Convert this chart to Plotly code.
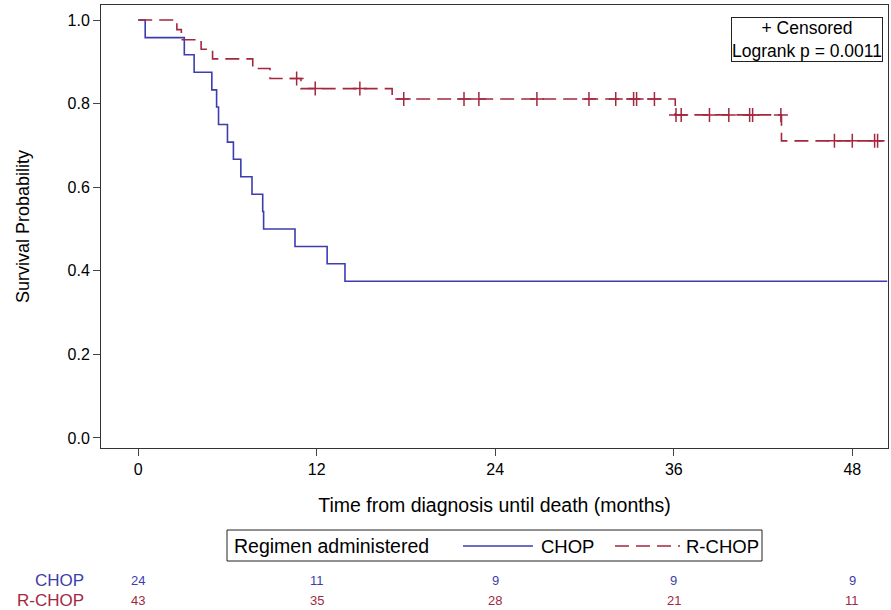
import plotly.graph_objects as go
import numpy as np

# ---- data ----
chop_t = [0, 0.47, 3.1, 3.76, 4.95, 5.27, 5.4, 6.0, 6.4, 6.9, 7.65, 8.37, 8.43, 10.54, 12.7, 13.9, 50.35]
chop_s = [1.0, 0.958, 0.917, 0.875, 0.833, 0.792, 0.750, 0.708, 0.667, 0.625, 0.583, 0.542, 0.500, 0.458, 0.417, 0.375, 0.375]

rchop_t = [0, 2.6, 2.9, 4.23, 5.0, 7.7, 8.86, 10.94, 17.07, 36.1, 43.24, 50.1]
rchop_s = [1.0, 0.977, 0.953, 0.930, 0.907, 0.884, 0.860, 0.836, 0.811, 0.773, 0.711, 0.711]

rchop_cens = [10.65, 11.9, 14.9, 17.85, 21.9, 22.9, 26.8, 30.3, 32.1, 33.3, 33.5, 34.7,
              36.15, 36.5, 38.4, 39.7, 41.1, 41.3, 43.2, 46.8, 48.0, 49.5, 49.7]

risk_times = [0, 12, 24, 36, 48]
risk_chop = [24, 11, 9, 9, 9]
risk_rchop = [43, 35, 28, 21, 11]

x_ticks = [0, 12, 24, 36, 48]
y_ticks = [0.0, 0.2, 0.4, 0.6, 0.8, 1.0]

BLUE = '#3d3dae'
RED = '#a3283f'
FONT = 'Liberation Sans, Arial, sans-serif'
DASH = '14px,7px'

W, H = 891, 610
ML, MR, MT, MB = 101, 3, 5, 162
PW, PH = W - ML - MR, H - MT - MB


def px_x(px):
    return (px - ML) / PW


def px_y(py):
    return (H - MB - py) / PH


def step_value(times, surv, t):
    idx = np.searchsorted(np.array(times), t, side='right') - 1
    return surv[max(idx, 0)]


cens_y = [step_value(rchop_t, rchop_s, t) for t in rchop_cens]

fig = go.Figure()
fig.add_trace(go.Scatter(x=chop_t, y=chop_s, mode='lines', line_shape='hv',
                         line=dict(color=BLUE, width=1.6), name='CHOP', showlegend=False))
fig.add_trace(go.Scatter(x=rchop_t, y=rchop_s, mode='lines', line_shape='hv',
                         line=dict(color=RED, width=1.6, dash=DASH), name='R-CHOP',
                         showlegend=False))
fig.add_trace(go.Scatter(x=rchop_cens, y=cens_y, mode='markers', showlegend=False,
                         marker=dict(symbol='cross-thin', size=10,
                                     line=dict(color=RED, width=1.5), color=RED),
                         name='Censored'))

ann = []
# at-risk table
for t, n in zip(risk_times, risk_chop):
    ann.append(dict(x=t, y=px_y(580), xref='x', yref='paper', text=str(n), showarrow=False,
                    yanchor='middle', font=dict(color=BLUE, size=13, family=FONT)))
for t, n in zip(risk_times, risk_rchop):
    ann.append(dict(x=t, y=px_y(600), xref='x', yref='paper', text=str(n), showarrow=False,
                    yanchor='middle', font=dict(color=RED, size=13, family=FONT)))
ann.append(dict(x=px_x(86), y=px_y(580), xref='paper', yref='paper', text='CHOP', showarrow=False,
                xanchor='right', yanchor='middle', font=dict(color=BLUE, size=17, family=FONT)))
ann.append(dict(x=px_x(86), y=px_y(600), xref='paper', yref='paper', text='R-CHOP', showarrow=False,
                xanchor='right', yanchor='middle', font=dict(color=RED, size=17, family=FONT)))
# censored / logrank box
ann.append(dict(x=px_x(883), y=px_y(17), xref='paper', yref='paper',
                text='+ Censored<br>Logrank p = 0.0011', showarrow=False,
                xanchor='right', yanchor='top', align='center',
                bordercolor='#222', borderwidth=1, borderpad=0, bgcolor='white',
                font=dict(color='black', size=17.5, family=FONT)))
# legend (drawn as box + samples)
LEG_Y = px_y(546)
ann.append(dict(x=px_x(232), y=LEG_Y, xref='paper', yref='paper', text='Regimen administered',
                showarrow=False, xanchor='left', yanchor='middle',
                font=dict(color='black', size=19.5, family=FONT)))
ann.append(dict(x=px_x(539), y=LEG_Y, xref='paper', yref='paper', text='CHOP',
                showarrow=False, xanchor='left', yanchor='middle',
                font=dict(color='black', size=18.5, family=FONT)))
ann.append(dict(x=px_x(684), y=LEG_Y, xref='paper', yref='paper', text='R-CHOP',
                showarrow=False, xanchor='left', yanchor='middle',
                font=dict(color='black', size=18.5, family=FONT)))

shapes = [
    dict(type='rect', xref='paper', yref='paper', x0=px_x(227), x1=px_x(762),
         y0=px_y(561), y1=px_y(530), line=dict(color='#222', width=1)),
    dict(type='line', xref='paper', yref='paper', x0=px_x(463), x1=px_x(533),
         y0=LEG_Y, y1=LEG_Y, line=dict(color=BLUE, width=1.5)),
    dict(type='line', xref='paper', yref='paper', x0=px_x(615), x1=px_x(680),
         y0=LEG_Y, y1=LEG_Y, line=dict(color=RED, width=1.5, dash=DASH)),
]

fig.update_layout(
    width=W, height=H,
    margin=dict(l=ML, r=MR, t=MT, b=MB),
    plot_bgcolor='white', paper_bgcolor='white',
    font=dict(family=FONT, color='black'),
    annotations=ann, shapes=shapes, showlegend=False,
)
fig.update_xaxes(range=[-2.5, 50.4], tickvals=x_ticks, ticks='outside', ticklen=7,
                 showline=True, mirror=True, linecolor='#333', linewidth=1,
                 showgrid=False, zeroline=False, tickfont=dict(size=16),
                 title=dict(text='Time from diagnosis until death (months)',
                            font=dict(size=19.5), standoff=21))
fig.update_yaxes(range=[-0.024, 1.036], tickvals=y_ticks, tickformat='.1f', ticks='outside',
                 ticklen=7, showline=True, mirror=True, linecolor='#333', linewidth=1,
                 showgrid=False, zeroline=False, tickfont=dict(size=16),
                 title=dict(text='Survival Probability', font=dict(size=18), standoff=33))

fig.write_html('out.html', config={'displayModeBar': False},
               post_script="document.body.style.margin='0px';")
